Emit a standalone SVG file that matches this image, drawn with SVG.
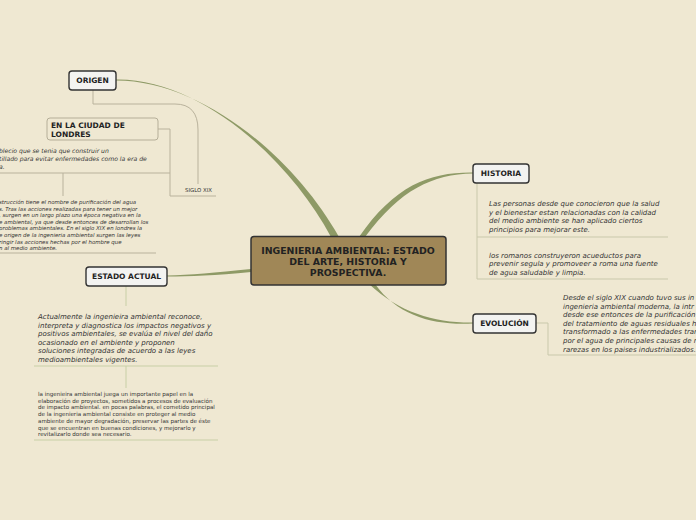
<svg xmlns="http://www.w3.org/2000/svg" width="696" height="520" viewBox="0 0 696 520">
<style>
.bg{fill:#efe8d2}
.node rect{fill:#f3f3f1;stroke:#333;stroke-width:1.4}
.lbl{font-family:"DejaVu Sans",Verdana,sans-serif;font-weight:bold;font-size:7.5px;fill:#222;text-anchor:middle}
.main{fill:#8e9a66}
.sub{fill:none;stroke-width:1}
.og{stroke:#b9b29c}
.hg{stroke:#c9c8ab}
.eg{stroke:#c8cfa6}
.it{font-family:"DejaVu Sans",Verdana,sans-serif;font-style:italic;fill:#333}
.pl{font-family:"DejaVu Sans",Verdana,sans-serif;fill:#333}
</style>
<rect class="bg" x="0" y="0" width="696" height="520"/>
<g id="connectors">
<path class="main" d="M116,79.5 C200,78 290,160 331,237 L339,237 C294,157 202,80.5 116,80.5 Z"/>
<path class="main" d="M359,237 C395,185 430,172 473,172.5 L473,173.5 C432,174.5 401,189 365,237 Z"/>
<path class="main" d="M369,284 C400,313 435,323 473,322.5 L473,323.5 C433,325.5 398,316 375,284 Z"/>
<path class="main" d="M251,269 C215,272.5 190,275 167,275.5 L167,276.5 C190,276.5 215,275.5 251,272 Z"/>
<path class="sub og" d="M93,90 V104 H175 Q198,104 198,130 V184"/>
<path class="sub og" d="M158,129 H170 V196 H216"/>
<path class="sub og" d="M0,173 H170"/>
<path class="sub og" d="M63,173 V196"/>
<path class="sub og" d="M0,253 H156"/>
<path class="sub eg" d="M126,286 V306"/>
<path class="sub eg" d="M34,366 H218"/>
<path class="sub eg" d="M126,366 V388"/>
<path class="sub eg" d="M34,440 H218"/>
<path class="sub hg" d="M477,183 V279"/>
<path class="sub hg" d="M477,237 H668"/>
<path class="sub hg" d="M477,279 H668"/>
<path class="sub hg" d="M536,323 H548 V355 H696"/>
</g>
<g id="central">
<rect x="251" y="236.5" width="195" height="48.5" rx="3" fill="#a08757" stroke="#333" stroke-width="1.5"/>
<text class="lbl" style="font-size:9.4px" x="348" y="253.5">INGENIERIA AMBIENTAL: ESTADO</text>
<text class="lbl" style="font-size:9.4px" x="348" y="264.5">DEL ARTE, HISTORIA Y</text>
<text class="lbl" style="font-size:9.4px" x="348" y="275.5">PROSPECTIVA.</text>
</g>
<g id="origen" class="node">
<rect x="69" y="71" width="47" height="19" rx="3"/>
<text class="lbl" x="92.5" y="83.2">ORIGEN</text>
</g>
<g id="londres">
<rect x="47" y="118" width="111" height="22" rx="3" fill="#efe8d2" stroke="#b5ae98" stroke-width="1"/>
<text class="lbl" x="51" y="127.5" style="text-anchor:start">EN LA CIUDAD DE</text>
<text class="lbl" x="51" y="136.5" style="text-anchor:start">LONDRES</text>
</g>
<g id="londres-text" class="it" font-size="6.1">
<text x="-1" y="153">blecio que se tenia que construir un</text>
<text x="-1" y="161">tillado para evitar enfermedades como la era de</text>
<text x="-1" y="169">a.</text>
</g>
<g id="siglo-xix">
<text class="pl" x="185" y="191.5" font-size="5.4">SIGLO XIX</text>
</g>
<g id="siglo-text" class="it" font-size="5.45">
<text x="-1" y="204">strucción tiene el nombre de purificación del agua</text>
<text x="-1" y="210.6">s. Tras las acciones realizadas para tener un mejor</text>
<text x="-1" y="217.2">, surgen en un largo plazo una época negativa en la</text>
<text x="-1" y="223.8">e ambiental, ya que desde entonces de desarrollan los</text>
<text x="-1" y="230.4"> problemas ambientales. En el siglo XIX en londres la</text>
<text x="-1" y="237">e origen de la ingenieria ambiental surgen las leyes</text>
<text x="-1" y="243.6">ringir las acciones hechas por el hombre que</text>
<text x="-1" y="250.2">n al medio ambiente.</text>
</g>
<g id="estado-actual" class="node">
<rect x="86" y="267" width="81" height="19" rx="3"/>
<text class="lbl" x="126.5" y="279.2">ESTADO ACTUAL</text>
</g>
<g id="estado-text1" class="it" font-size="7">
<text x="38" y="319">Actualmente la ingenieira ambiental reconoce,</text>
<text x="38" y="327.6">interpreta y diagnostica los impactos negativos y</text>
<text x="38" y="336.2">positivos ambientales, se evalúa el nivel del daño</text>
<text x="38" y="344.8">ocasionado en el ambiente y proponen</text>
<text x="38" y="353.4">soluciones integradas de acuerdo a las leyes</text>
<text x="38" y="362">medioambientales vigentes.</text>
</g>
<g id="estado-text2" class="pl" font-size="5.55">
<text x="38" y="396">la ingenieira ambiental juega un importante papel en la</text>
<text x="38" y="402.7">elaboración de proyectos, sometidos a procesos de evaluación</text>
<text x="38" y="409.4">de impacto ambiental. en pocas palabras, el cometido principal</text>
<text x="38" y="416.1">de la ingenieria ambiental consiste en proteger al medio</text>
<text x="38" y="422.8">ambiente de mayor degradación, preservar las partes de éste</text>
<text x="38" y="429.5">que se encuentran en buenas condiciones, y mejorarlo y</text>
<text x="38" y="436.2">revitalizarlo donde sea necesario.</text>
</g>
<g id="historia" class="node">
<rect x="473" y="164" width="56" height="19" rx="3"/>
<text class="lbl" x="501" y="176.2">HISTORIA</text>
</g>
<g id="historia-text1" class="it" font-size="7">
<text x="489" y="206">Las personas desde que conocieron que la salud</text>
<text x="489" y="214.7">y el bienestar estan relacionadas con la calidad</text>
<text x="489" y="223.4">del medio ambiente se han aplicado ciertos</text>
<text x="489" y="232.1">principios para mejorar este.</text>
</g>
<g id="historia-text2" class="it" font-size="7">
<text x="489" y="257.5">los romanos construyeron acueductos para</text>
<text x="489" y="266.2">prevenir segula y promoveer a roma una fuente</text>
<text x="489" y="274.9">de agua saludable y limpia.</text>
</g>
<g id="evolucion" class="node">
<rect x="473" y="314" width="63" height="19" rx="3"/>
<text class="lbl" x="504.5" y="326.2">EVOLUCIÓN</text>
</g>
<g id="evolucion-text" class="it" font-size="7">
<text x="563" y="300">Desde el siglo XIX cuando tuvo sus in</text>
<text x="563" y="308.6">ingenieria ambiental moderna, la intr</text>
<text x="563" y="317.2">desde ese entonces de la purificación</text>
<text x="563" y="325.8">del tratamiento de aguas residuales h</text>
<text x="563" y="334.4">transformado a las enfermedades tran</text>
<text x="563" y="343">por el agua de principales causas de r</text>
<text x="563" y="351.6">rarezas en los paises industrializados.</text>
</g>
</svg>
